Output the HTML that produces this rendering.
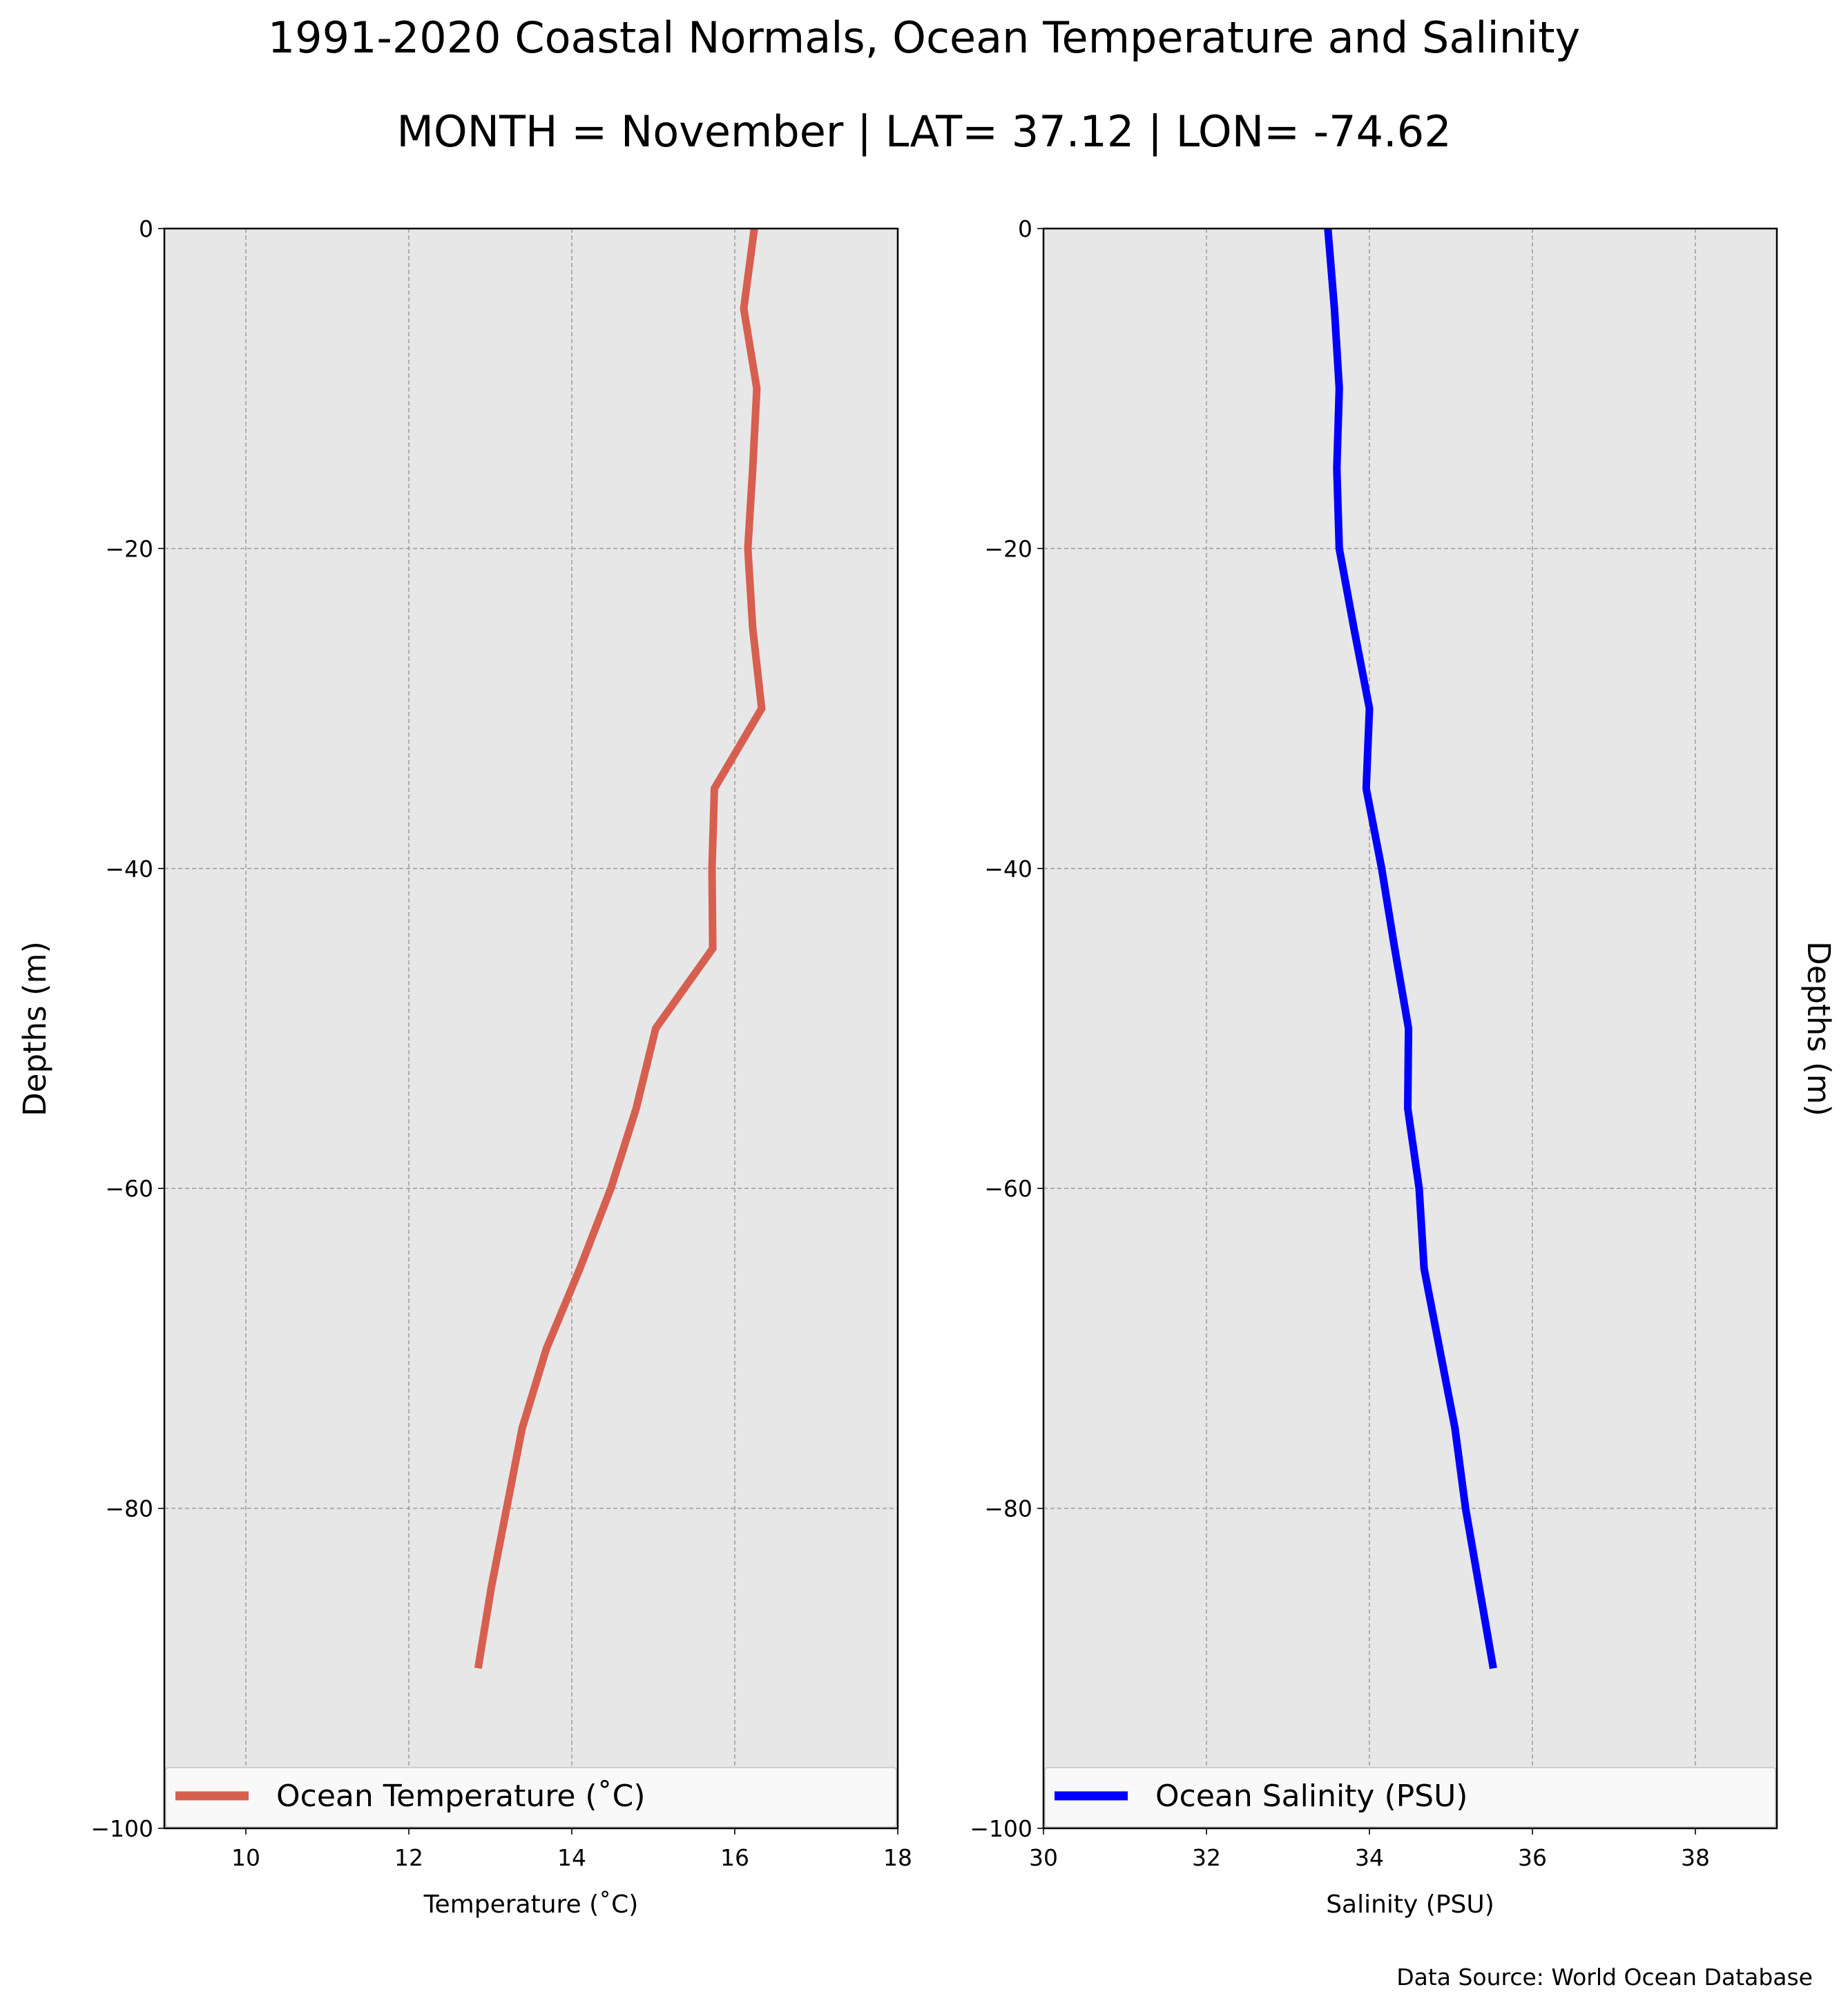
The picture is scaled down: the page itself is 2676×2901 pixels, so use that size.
<!DOCTYPE html>
<html><head><meta charset="utf-8"><style>
body{margin:0;background:#fff;}
svg{display:block;font-family:"DejaVu Sans","Liberation Sans",sans-serif;}
</style></head><body>
<svg id="fig" width="2676" height="2901" viewBox="0 0 2676 2901">
<rect width="2676" height="2901" fill="#fff"/>
<text x="1338" y="76" font-size="62" text-anchor="middle">1991-2020 Coastal Normals, Ocean Temperature and Salinity</text>
<text x="1338" y="212" font-size="62" text-anchor="middle">MONTH = November | LAT= 37.12 | LON= -74.62</text>
<text transform="translate(66,1490) rotate(-90)" font-size="45" text-anchor="middle">Depths (m)</text>
<text transform="translate(2618,1490) rotate(90)" font-size="45" text-anchor="middle">Depths (m)</text>
<text x="2625" y="2875" font-size="33" text-anchor="end">Data Source: World Ocean Database</text>
<g id="p1"></g>
<g id="p2"></g>
</svg>
<script>
const depths = [0,-5,-10,-15,-20,-25,-30,-35,-40,-45,-50,-55,-60,-65,-70,-75,-80,-85,-90];
const temperature = [16.24,16.11,16.27,16.22,16.16,16.22,16.33,15.75,15.72,15.73,15.03,14.79,14.48,14.1,13.69,13.39,13.2,13.01,12.85];
const salinity = [33.49,33.57,33.63,33.6,33.63,33.81,34.0,33.96,34.15,34.31,34.48,34.47,34.61,34.67,34.86,35.05,35.18,35.35,35.52];
const yTicks = [0,-20,-40,-60,-80,-100];
const tempTicks = [10,12,14,16,18];
const salTicks = [30,32,34,36,38];
const NS='http://www.w3.org/2000/svg';
function mk(parent,tag,attrs,text){const e=document.createElementNS(NS,tag);for(const k in attrs)e.setAttribute(k,attrs[k]);if(text!==undefined)e.textContent=text;parent.appendChild(e);return e;}
const plotTop=331,plotBot=2648;
function yS(d){return plotTop+(0-d)/100*(plotBot-plotTop);}
function panel(g,x0,x1,xmin,xmax,xt,vals,color,label,legendText,key){
  const xS=v=>x0+(v-xmin)/(xmax-xmin)*(x1-x0);
  let r=mk(g,'rect',{x:x0,y:plotTop,width:x1-x0,height:plotBot-plotTop,fill:'#e7e7e7'});
  
  
  xt.forEach(t=>{const x=xS(t);
    mk(g,'line',{x1:x,y1:plotTop,x2:x,y2:plotBot,stroke:'#a0a0a0','stroke-width':1.6,'stroke-dasharray':'6,4'});
    mk(g,'line',{x1:x,y1:plotBot,x2:x,y2:plotBot+9,stroke:'#000','stroke-width':1.6});
    const tl=mk(g,'text',{x:x,y:plotBot+54,'font-size':33,'text-anchor':'middle'},String(t));
    
    
  });
  yTicks.forEach(t=>{const y=yS(t);
    if(t!==0&&t!==-100)mk(g,'line',{x1:x0,y1:y,x2:x1,y2:y,stroke:'#a0a0a0','stroke-width':1.6,'stroke-dasharray':'6,4'});
    mk(g,'line',{x1:x0-9,y1:y,x2:x0,y2:y,stroke:'#000','stroke-width':1.6});
    const tl=mk(g,'text',{x:x0-16,y:y+12,'font-size':33,'text-anchor':'end'},(t<0?'\u2212'+(-t):String(t)));
    
    
  });
  const pts=vals.map((v,i)=>xS(v).toFixed(1)+','+yS(depths[i]).toFixed(1)).join(' ');
  const pl=mk(g,'polyline',{points:pts,fill:'none',stroke:color,'stroke-width':11,'stroke-linejoin':'miter'});
  
  
  const lg=mk(g,'g',{});
  
  
  mk(lg,'rect',{x:x0+2,y:2560,width:x1-x0-4,height:86,fill:'#f9f9f9',stroke:'#cfcfcf','stroke-width':2,rx:4});
  mk(lg,'line',{x1:x0+16,y1:2601,x2:x0+122,y2:2601,stroke:color,'stroke-width':13});
  mk(lg,'text',{x:x0+162,y:2616,'font-size':44},legendText);
  mk(g,'rect',{x:x0,y:plotTop,width:x1-x0,height:plotBot-plotTop,fill:'none',stroke:'#000','stroke-width':2.5});
  const xl=mk(g,'text',{x:(x0+x1)/2,y:2770,'font-size':36,'text-anchor':'middle'},label);
  
  
}
panel(document.getElementById('p1'),238,1300,9,18,tempTicks,temperature,'#d75f4f','Temperature (\u02DAC)','Ocean Temperature (\u02DAC)','temperature');
panel(document.getElementById('p2'),1511,2573,30,39,salTicks,salinity,'#0000ff','Salinity (PSU)','Ocean Salinity (PSU)','salinity');
</script>
</body></html>
